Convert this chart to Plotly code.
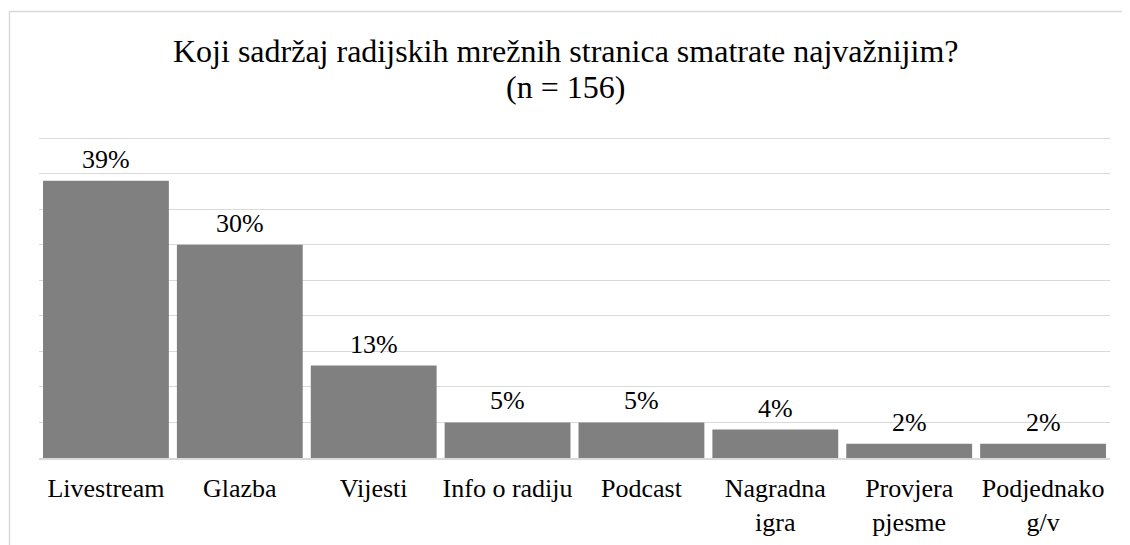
import plotly.graph_objects as go

categories = ["Livestream", "Glazba", "Vijesti", "Info o radiju", "Podcast",
              "Nagradna<br>igra", "Provjera<br>pjesme", "Podjednako<br>g/v"]
values = [39, 30, 13, 5, 5, 4, 2, 2]
labels = ["39%", "30%", "13%", "5%", "5%", "4%", "2%", "2%"]
grid_values = [5, 10, 15, 20, 25, 30, 35, 40, 45]
title_line1 = "Koji sadržaj radijskih mrežnih stranica smatrate najvažnijim?"
title_line2 = "(n = 156)"

FONT = "Times New Roman"

# page body has an 8px margin; figure coordinates are offset by it
OFF = 8
W, H = 1130 - OFF, 545 - OFF
# target screen positions of the plot area (a little headroom above the 45% gridline)
sx0, sx1, sy0, sy1 = 39, 1110, 134, 458
l, r, t, b = sx0 - OFF, W - (sx1 - OFF), sy0 - OFF, H - (sy1 - OFF)
pw, ph = W - l - r, H - t - b
ymax = 45 * ph / 320.0  # so that 45% lies at screen y = 138


def px_x(sx):
    return (sx - OFF - l) / pw


def px_y(sy):
    return (t + ph - (sy - OFF)) / ph


fig = go.Figure()
fig.add_trace(go.Bar(x=categories, y=values, marker=dict(color="#808080", line=dict(width=0)),
                     hoverinfo="skip"))

for c, v, txt in zip(categories, values, labels):
    fig.add_annotation(x=c, y=v, text=txt, showarrow=False, yanchor="bottom",
                       yshift=5, font=dict(family=FONT, size=26, color="#000000"))

fig.add_annotation(xref="paper", yref="paper", x=px_x(565), y=px_y(51), text=title_line1,
                   showarrow=False, xanchor="center", yanchor="middle",
                   font=dict(family=FONT, size=32, color="#000000"))
fig.add_annotation(xref="paper", yref="paper", x=px_x(565), y=px_y(87), text=title_line2,
                   showarrow=False, xanchor="center", yanchor="middle",
                   font=dict(family=FONT, size=32, color="#000000"))

fig.add_shape(type="rect", xref="paper", yref="paper",
              x0=px_x(9.5), x1=px_x(1140), y0=px_y(560), y1=px_y(11.5),
              line=dict(color="#d9d9d9", width=1.5), fillcolor="rgba(0,0,0,0)", layer="below")

fig.update_layout(
    width=W, height=H,
    margin=dict(l=l, r=r, t=t, b=b, autoexpand=False),
    paper_bgcolor="white", plot_bgcolor="white",
    bargap=0.06,
    showlegend=False,
)
fig.update_xaxes(showgrid=False, showline=True, linecolor="#d9d9d9", linewidth=1.5,
                 ticks="", tickfont=dict(family=FONT, size=26, color="#000000"), tickangle=0,
                 ticklabelstandoff=6, automargin=False)
fig.update_yaxes(range=[0, ymax], tickvals=grid_values, showgrid=True,
                 gridcolor="#d9d9d9", gridwidth=1, showticklabels=False, zeroline=False,
                 ticks="", automargin=False)

fig.write_html("out.html")
